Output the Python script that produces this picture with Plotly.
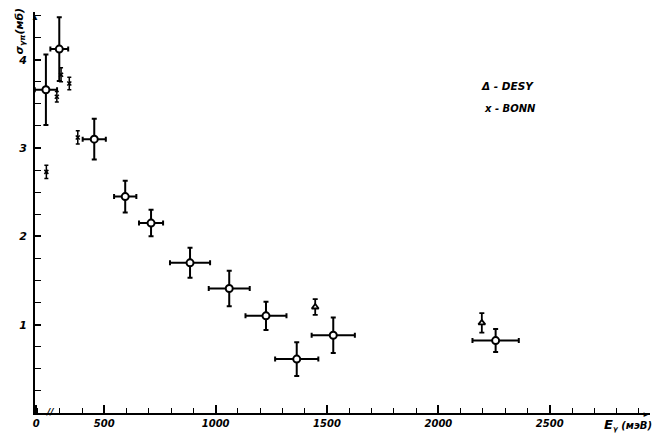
import plotly.graph_objects as go

# Main data (open circles)
E_main = [238, 298, 455, 594, 710, 885, 1061, 1226, 1364, 1528, 2257]
dE_main = [50, 40, 52, 50, 54, 90, 92, 92, 97, 97, 104]
sig_main = [3.66, 4.12, 3.10, 2.45, 2.15, 1.70, 1.41, 1.10, 0.61, 0.88, 0.82]
dsig_main = [0.40, 0.36, 0.23, 0.18, 0.15, 0.17, 0.20, 0.16, 0.19, 0.20, 0.13]

# DESY (triangles)
E_desy = [1447, 2195]
sig_desy = [1.20, 1.02]
dsig_desy = [0.09, 0.11]

# BONN (crosses)
E_bonn = [240, 287, 306, 343, 381]
sig_bonn = [2.73, 3.58, 3.83, 3.73, 3.12]
dsig_bonn = [0.075, 0.06, 0.08, 0.07, 0.075]

x_tickvals = [195, 500, 1000, 1500, 2000, 2500]
x_ticktext = ["0", "500", "1000", "1500", "2000", "2500"]
y_tickvals = [1, 2, 3, 4]
y_ticktext = ["1", "2", "3", "4"]

X_RANGE = [189, 2950]
Y_RANGE = [0, 4.54]
BREAK_AT = 256

hand = dict(family="DejaVu Sans", size=10, color="black", weight="bold", style="italic")

fig = go.Figure()

fig.add_trace(go.Scatter(
    x=E_bonn, y=sig_bonn, mode="markers",
    marker=dict(symbol="x-thin", size=4, color="black", line=dict(width=1.5, color="black")),
    error_y=dict(type="data", array=dsig_bonn, color="black", thickness=1.5, width=2),
    showlegend=False,
))

fig.add_trace(go.Scatter(
    x=E_desy, y=sig_desy, mode="markers",
    marker=dict(symbol="triangle-up", size=6, color="white", line=dict(width=1.8, color="black")),
    error_y=dict(type="data", array=dsig_desy, color="black", thickness=1.8, width=2.5),
    showlegend=False,
))

fig.add_trace(go.Scatter(
    x=E_main, y=sig_main, mode="markers",
    marker=dict(symbol="circle", size=7, color="white", line=dict(width=2, color="black")),
    error_y=dict(type="data", array=dsig_main, color="black", thickness=2, width=2.5),
    error_x=dict(type="data", array=dE_main, color="black", thickness=2, width=2.5),
    showlegend=False,
))

fig.update_layout(
    width=656, height=438,
    margin=dict(l=35, r=6, t=12, b=25),
    paper_bgcolor="white", plot_bgcolor="white",
    xaxis=dict(
        range=X_RANGE, showgrid=False, zeroline=False,
        showline=True, linecolor="black", linewidth=2,
        ticks="inside", ticklen=8, tickwidth=1.5, tickcolor="black",
        tickmode="array", tickvals=x_tickvals, ticktext=x_ticktext,
        tickfont=hand,
        minor=dict(tickmode="linear", tick0=0, dtick=100, ticks="inside",
                   ticklen=5, tickwidth=1.2, tickcolor="black"),
    ),
    yaxis=dict(
        range=Y_RANGE, showgrid=False, zeroline=False,
        showline=True, linecolor="black", linewidth=2,
        ticks="inside", ticklen=6, tickwidth=1.5, tickcolor="black",
        tickmode="array", tickvals=y_tickvals, ticktext=y_ticktext,
        tickfont=dict(hand, size=11), ticklabelstandoff=4,
        minor=dict(tickmode="linear", tick0=0, dtick=0.25, ticks="inside",
                   ticklen=6, tickwidth=1.2, tickcolor="black"),
    ),
    annotations=[
        # axis arrows
        dict(x=1, y=0, xref="paper", yref="paper", text="►", showarrow=False,
             xanchor="right", yanchor="middle", font=dict(size=8, color="black"), xshift=2),
        dict(x=0, y=1, xref="paper", yref="paper", text="▲", showarrow=False,
             xanchor="center", yanchor="top", font=dict(size=8, color="black"), yshift=3),
        # axis break
        dict(x=BREAK_AT, y=0, xref="x", yref="y", text="//", showarrow=False,
             font=dict(hand, size=9), yshift=1),
        # axis titles
        dict(x=1, y=0, xref="paper", yref="paper", xanchor="right", yanchor="top",
             text="<span style='font-size:13px'>E</span><sub>γ</sub> (мэВ)",
             showarrow=False, font=dict(hand, size=10), yshift=-2, xshift=4),
        dict(x=0, y=1, xref="paper", yref="paper", xanchor="right", yanchor="top",
             text="σ<sub>γπ</sub>(мб)", textangle=-90, showarrow=False,
             font=dict(hand, size=11), xshift=-7, yshift=6),
        # legend text
        dict(x=479, y=78, xref="paper", yref="paper", text="Δ - DESY", showarrow=False,
             font=dict(hand, size=10.5), xanchor="left"),
        dict(x=482, y=101, xref="paper", yref="paper", text="x - BONN", showarrow=False,
             font=dict(hand, size=10), xanchor="left"),
    ],
)

# convert legend pixel positions to paper coords
plot_w = 656 - 35 - 6
plot_h = 438 - 12 - 25
for a in fig.layout.annotations:
    if a.text in ("Δ - DESY", "x - BONN"):
        a.x = (a.x - 35) / plot_w
        a.y = 1 - (a.y - 12) / plot_h

fig.write_html("out.html", config={"displayModeBar": False},
               post_script="document.body.style.margin='0';")
